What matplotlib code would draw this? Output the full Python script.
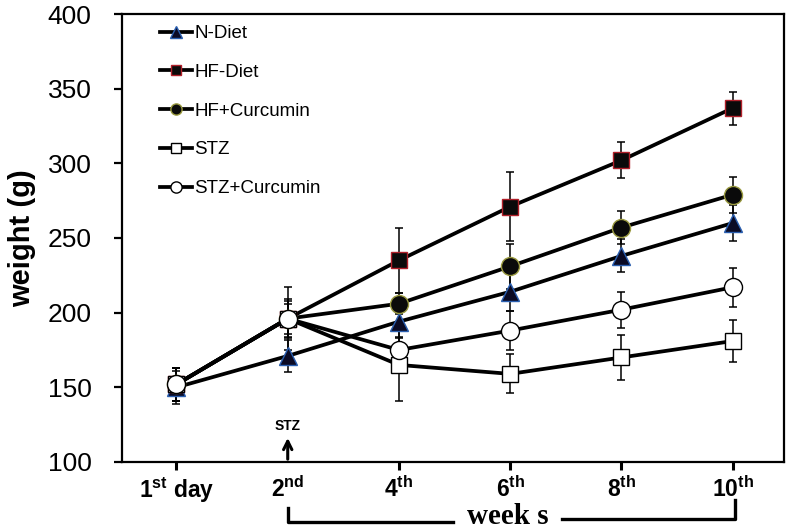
import numpy as np
import matplotlib.pyplot as plt

# time points and group means / errors
tick_labels = ["1$^{st}$ day", "2$^{nd}$", "4$^{th}$", "6$^{th}$", "8$^{th}$", "10$^{th}$"]

n_diet = [150, 171, 194, 214, 238, 260]
n_diet_err = [11, 11, 10, 13, 11, 12]

hf_diet = [152, 196, 235, 271, 302, 337]
hf_diet_err = [11, 21, 22, 23, 12, 11]

hf_curc = [152, 196, 206, 231, 257, 279]
hf_curc_err = [11, 12, 7, 15, 11, 12]

stz = [152, 196, 165, 159, 170, 181]
stz_err = [11, 13, 24, 13, 15, 14]

stz_curc = [152, 196, 175, 188, 202, 217]
stz_curc_err = [11, 10, 8, 13, 12, 13]

groups = [
    ("N-Diet", n_diet, n_diet_err, "^", "#0b0b25", "#2a5fb0"),
    ("HF-Diet", hf_diet, hf_diet_err, "s", "#0a0a0a", "#b0202a"),
    ("HF+Curcumin", hf_curc, hf_curc_err, "o", "#0a0a0a", "#9a9a40"),
    ("STZ", stz, stz_err, "s", "white", "black"),
    ("STZ+Curcumin", stz_curc, stz_curc_err, "o", "white", "black"),
]

plt.rcParams['font.family'] = ['Liberation Sans', 'DejaVu Sans']
plt.rcParams['mathtext.fontset'] = 'custom'
plt.rcParams['mathtext.rm'] = 'Liberation Sans:bold'
plt.rcParams['mathtext.it'] = 'Liberation Sans:bold'
plt.rcParams['mathtext.bf'] = 'Liberation Sans:bold'
plt.rcParams['mathtext.default'] = 'rm'

fig = plt.figure(figsize=(7.87, 5.29), dpi=100)
ax = fig.add_axes([0.155, 0.1267, 0.841, 0.8468])

x = np.arange(len(tick_labels))

for name, vals, errs, mk, fc, ec in groups:
    ax.errorbar(x, vals, yerr=errs, fmt='none', ecolor='black', elinewidth=1.1,
                capsize=3, capthick=1.1, zorder=1)
for name, vals, errs, mk, fc, ec in groups:
    ax.plot(x, vals, color='black', lw=2.7, marker=mk, markersize=13 if mk != 's' else 12,
            markerfacecolor=fc, markeredgecolor=ec, markeredgewidth=1.0, label=name, zorder=3)

ax.set_xlim(-0.49, 5.46)
ax.set_ylim(100, 400)
ax.set_yticks([100, 150, 200, 250, 300, 350, 400])
ax.set_xticks(x)
ax.set_xticklabels(tick_labels, fontweight='bold', fontsize=16.5)
ax.xaxis.get_major_ticks()[1].tick1line.set_visible(False)

for s in ax.spines.values():
    s.set_linewidth(1.6)
ax.tick_params(axis='y', direction='out', length=6, width=1.6, labelsize=19, pad=16)
ax.tick_params(axis='x', direction='out', length=6, width=2.2, pad=4)

ax.set_ylabel("weight (g)", fontsize=21, fontweight='bold', labelpad=8)

ax.legend(loc='upper left', bbox_to_anchor=(0.057, 0.975), frameon=False, fontsize=13.5,
          labelspacing=1.15, handlelength=1.7, handletextpad=0.15, borderpad=0,
          borderaxespad=0, markerscale=0.62)

# STZ injection arrow
ax.annotate('', xy=(1, 118), xytext=(1, 100),
            arrowprops=dict(arrowstyle='->', lw=2.2, color='black', mutation_scale=15))
ax.text(1, 124, "STZ", ha='center', va='center', fontsize=10, fontweight='bold')

# "weeks" bracket under the axis
tr = ax.get_xaxis_transform()
ax.plot([1, 1, 2.49], [-0.103, -0.134, -0.134], color='black', lw=2.4, transform=tr, clip_on=False)
ax.plot([3.47, 5.02, 5.02], [-0.128, -0.128, -0.085], color='black', lw=2.4, transform=tr, clip_on=False)
ax.text(2.98, -0.138, "week s", ha='center', va='baseline', fontsize=21, fontweight='bold',
        fontfamily='Liberation Serif', transform=tr)

fig.savefig("out.png", dpi=100)
